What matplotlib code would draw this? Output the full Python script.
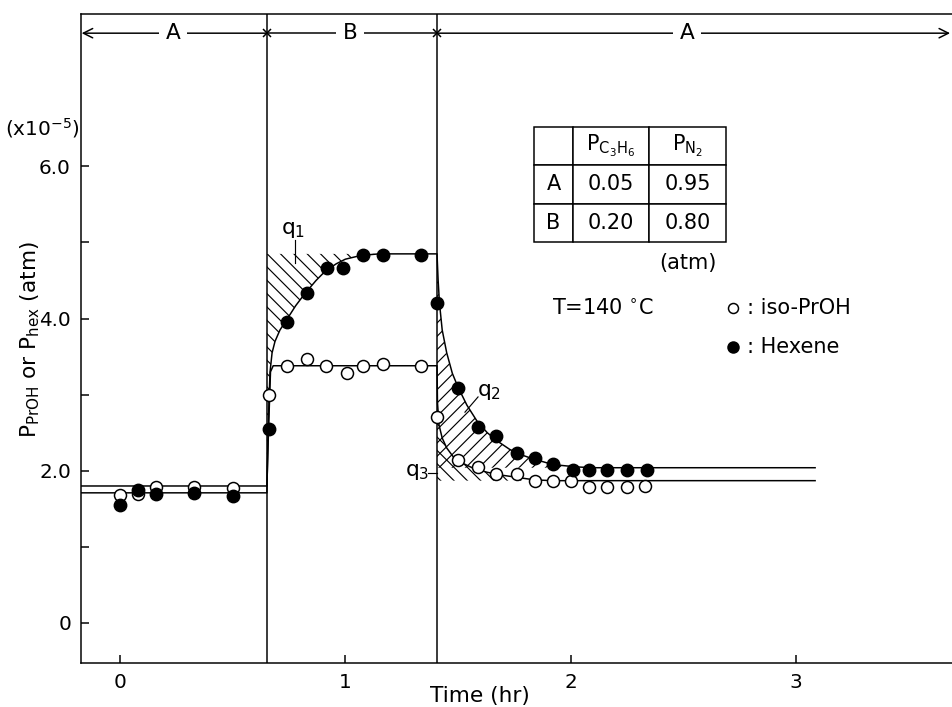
import matplotlib.pyplot as plt

plt.rcParams['font.family'] = 'DejaVu Sans'
plt.rcParams['mathtext.default'] = 'regular'
plt.rcParams['hatch.linewidth'] = 0.7

# feed switching times (hr): A -> B -> A
t_switch = [0.652, 1.407]

# measured points, iso-PrOH (open) and hexene (filled)
t_iso = [0.0, 0.08, 0.16, 0.33, 0.50,
         0.661, 0.741, 0.83, 0.914, 1.008, 1.079, 1.167, 1.336,
         1.408, 1.50, 1.59, 1.67, 1.76, 1.84, 1.92, 2.00, 2.08, 2.16, 2.25, 2.33]
p_iso = [1.68, 1.70, 1.79, 1.79, 1.77,
         2.99, 3.38, 3.47, 3.38, 3.29, 3.38, 3.40, 3.38,
         2.70, 2.14, 2.05, 1.96, 1.96, 1.87, 1.87, 1.87, 1.79, 1.79, 1.79, 1.80]
t_hex = [0.0, 0.08, 0.16, 0.33, 0.50,
         0.661, 0.741, 0.83, 0.919, 0.99, 1.079, 1.167, 1.336,
         1.408, 1.50, 1.59, 1.67, 1.76, 1.84, 1.92, 2.01, 2.08, 2.16, 2.25, 2.34]
p_hex = [1.55, 1.75, 1.70, 1.71, 1.67,
         2.55, 3.96, 4.33, 4.66, 4.66, 4.83, 4.83, 4.83,
         4.21, 3.09, 2.58, 2.46, 2.24, 2.17, 2.09, 2.01, 2.01, 2.01, 2.01, 2.01]

# drawn response curves
iso_curve_t = [-0.173, 0.652, 0.660, 0.668, 0.680, 1.407,
               1.409, 1.416, 1.43, 1.45, 1.48, 1.52, 1.57, 1.63, 1.70, 1.77, 1.84, 1.92, 3.085]
iso_curve_p = [1.80, 1.80, 2.60, 3.30, 3.38, 3.38,
               2.90, 2.60, 2.43, 2.30, 2.18, 2.10, 2.03, 1.98, 1.94, 1.91, 1.88, 1.87, 1.87]
hex_curve_t = [-0.173, 0.652, 0.656, 0.661, 0.666, 0.675, 0.688, 0.71, 0.741, 0.78, 0.821,
               0.87, 0.91, 0.96, 1.00, 1.07, 1.15, 1.407,
               1.412, 1.418, 1.43, 1.45, 1.475, 1.50, 1.54, 1.585, 1.63, 1.68, 1.73,
               1.78, 1.84, 1.90, 1.96, 2.03, 2.10, 3.085]
hex_curve_p = [1.71, 1.71, 2.30, 2.90, 3.30, 3.55, 3.70, 3.85, 3.99, 4.17, 4.33,
               4.50, 4.62, 4.72, 4.78, 4.83, 4.85, 4.85,
               4.50, 4.20, 3.85, 3.55, 3.28, 3.10, 2.86, 2.65, 2.50, 2.38, 2.28,
               2.21, 2.15, 2.10, 2.07, 2.05, 2.04, 2.04]

# feed composition table (atm)
feeds = ['A', 'B']
p_c3h6 = ['0.05', '0.20']
p_n2 = ['0.95', '0.80']

fig = plt.figure(figsize=(952 / 120, 707 / 120), dpi=120)
ax = fig.add_axes([81 / 952, 44 / 707, 879 / 952, 649 / 707])
ax.set_xlim(-0.173, 3.728)
ax.set_ylim(-0.526, 8.002)

lw = 0.9

# hatched areas q1, q2, q3
i0 = hex_curve_t.index(t_switch[0])
i1 = hex_curve_t.index(t_switch[1])
q1_t = hex_curve_t[i0:i1 + 1] + [t_switch[0]]
q1_p = hex_curve_p[i0:i1 + 1] + [hex_curve_p[i1]]
ax.fill(q1_t, q1_p, facecolor='none', edgecolor='black', linewidth=0, hatch='\\\\\\', zorder=1)

q2_t = hex_curve_t[i1:-1] + [t_switch[1]]
q2_p = hex_curve_p[i1:-1] + [hex_curve_p[-1]]
ax.fill(q2_t, q2_p, facecolor='none', edgecolor='black', linewidth=0, hatch='///', zorder=1)

j1 = iso_curve_t.index(t_switch[1])
q3_t = iso_curve_t[j1:-1] + [t_switch[1]]
q3_p = iso_curve_p[j1:-1] + [iso_curve_p[-1]]
ax.fill(q3_t, q3_p, facecolor='none', edgecolor='black', linewidth=0, hatch='\\\\\\', zorder=1)

# switching lines
for ts in t_switch:
    ax.axvline(ts, color='black', lw=lw, zorder=2)

ax.plot(iso_curve_t, iso_curve_p, color='black', lw=lw, zorder=3)
ax.plot(hex_curve_t, hex_curve_p, color='black', lw=lw, zorder=3)

ax.plot(t_iso, p_iso, 'o', ms=7.2, mfc='white', mec='black', mew=0.9, zorder=4, clip_on=False)
ax.plot(t_hex, p_hex, 'o', ms=7.4, mfc='black', mec='black', mew=0.9, zorder=4, clip_on=False)

# feed periods along the top
y_bar = 7.75
arrow = dict(arrowstyle='->', lw=lw, color='black', shrinkA=0, shrinkB=0, mutation_scale=14)
ax.annotate('', xy=(-0.170, y_bar), xytext=(t_switch[0], y_bar), arrowprops=arrow)
ax.plot(t_switch, [y_bar, y_bar], color='black', lw=lw)
ax.annotate('', xy=(3.684, y_bar), xytext=(t_switch[1], y_bar), arrowprops=arrow, annotation_clip=False)
ax.plot(t_switch, [y_bar, y_bar], 'x', color='black', ms=5, mew=0.9)
box = dict(facecolor='white', edgecolor='none', pad=4)
for xt, lab in [(0.235, 'A'), (1.02, 'B'), (2.517, 'A')]:
    ax.text(xt, y_bar, lab, ha='center', va='center', fontsize=13, bbox=box, zorder=5)

# q labels
ax.text(0.768, 5.16, '$q_1$', ha='center', va='center', fontsize=13)
ax.plot([0.777, 0.777], [5.03, 4.73], color='black', lw=0.7)
ax.text(1.64, 3.03, '$q_2$', ha='center', va='center', fontsize=13)
ax.plot([1.589, 1.531], [2.97, 2.77], color='black', lw=0.7)
ax.text(1.318, 1.99, '$q_3$', ha='center', va='center', fontsize=13)
ax.plot([1.367, 1.407], [1.97, 1.97], color='black', lw=0.7)

# feed table
tbl = ax.table(cellText=[['', '$P_{C_3H_6}$', '$P_{N_2}$']] +
               [[f, a, b] for f, a, b in zip(feeds, p_c3h6, p_n2)],
               cellLoc='center', colWidths=[39 / 192, 76 / 192, 77 / 192],
               bbox=[453 / 879, 421 / 649, 192 / 879, 115 / 649])
tbl.auto_set_font_size(False)
tbl.set_fontsize(12.5)
for cell in tbl.get_celld().values():
    cell.set_linewidth(lw)
ax.text(2.521, 4.73, '(atm)', ha='center', va='center', fontsize=12.5)

ax.text(2.144, 4.14, 'T=140 $^{\\circ}$C', ha='center', va='center', fontsize=12.5)

# key
ax.plot([2.721], [4.14], 'o', ms=6, mfc='white', mec='black', mew=0.9)
ax.text(2.783, 4.14, ': iso-PrOH', ha='left', va='center', fontsize=12.5)
ax.plot([2.721], [3.63], 'o', ms=6.5, mfc='black', mec='black')
ax.text(2.783, 3.63, ': Hexene', ha='left', va='center', fontsize=12.5)

# axes
ax.set_xticks([0, 1, 2, 3])
ax.set_xticklabels(['0', '1', '2', '3'])
ax.set_yticks([0, 2, 4, 6])
ax.set_yticklabels(['0', '2.0', '4.0', '6.0'])
ax.set_yticks([1, 3, 5], minor=True)
ax.tick_params(which='both', direction='in', length=4.8, width=lw, labelsize=12, pad=6)
ax.spines['right'].set_visible(False)
for s in ['left', 'bottom', 'top']:
    ax.spines[s].set_linewidth(lw)

ax.set_xlabel('Time (hr)', fontsize=13)
ax.xaxis.set_label_coords(0.454, -0.035)
ax.set_ylabel('$P_{PrOH}$ or $P_{hex}$ (atm)', fontsize=13)
ax.yaxis.set_label_coords(-0.044, 0.498)
fig.text(42 / 952, 1 - 128 / 707, '(x10$^{-5}$)', ha='center', va='center', fontsize=12)

fig.savefig('out.png', dpi=120)
